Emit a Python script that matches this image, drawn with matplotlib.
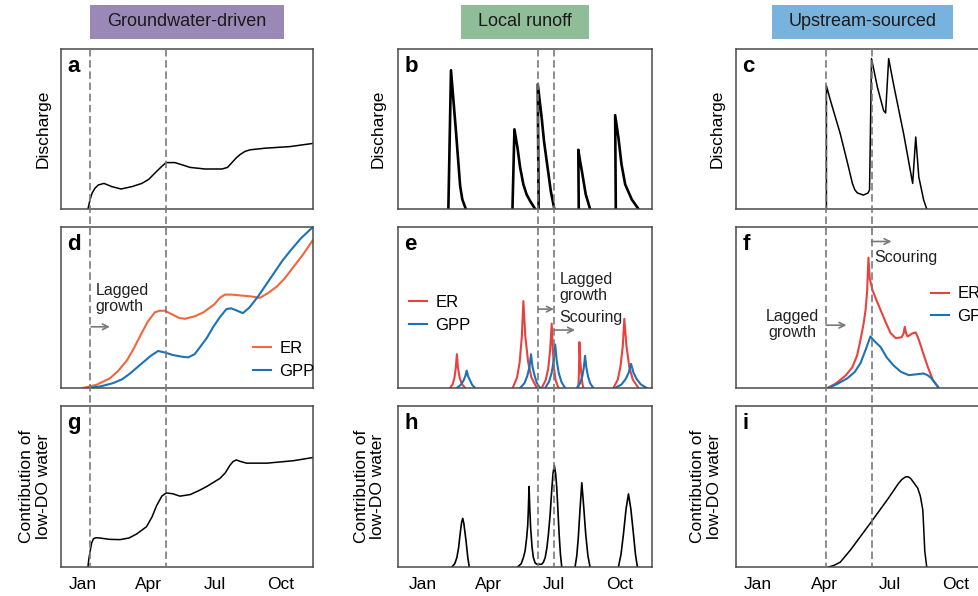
import matplotlib
matplotlib.use("Agg")
import matplotlib.pyplot as plt
from matplotlib.lines import Line2D
from matplotlib.patches import Rectangle
from matplotlib import transforms

plt.rcParams["font.family"] = ["Liberation Sans", "DejaVu Sans"]

# Monate: Jan = 0, Apr = 3, Jul = 6, Oct = 9
MONTH_TICKS = [0, 3, 6, 9]
MONTH_LABELS = ["Jan", "Apr", "Jul", "Oct"]

HEADERS = ["Groundwater-driven", "Local runoff", "Upstream-sourced"]
HEADER_COLORS = ["#9a88b6", "#8fbd98", "#78b3de"]
PANEL_LETTERS = ["a", "b", "c", "d", "e", "f", "g", "h", "i"]

# Zeitpunkte der gestrichelten Linien je Spalte (Monate)
dashed_months = [[0.32, 3.79], [5.29, 6.01], [3.09, 5.16]]

# --- a: Abfluss, grundwassergespeist
a_month = [0.23, 0.28, 0.32, 0.42, 0.55, 0.7, 0.96, 1.32, 1.74, 2.24, 2.69, 3.0, 3.29, 3.55,
           3.79, 4.2, 4.55, 4.89, 5.57, 6.35, 6.6, 6.8, 7.0, 7.17, 7.4, 7.63, 8.31, 9.45, 10.5]
a_flow = [0, 0.03, 0.056, 0.10, 0.13, 0.15, 0.16, 0.14, 0.125, 0.14, 0.16, 0.185, 0.225, 0.26,
          0.29, 0.29, 0.275, 0.26, 0.25, 0.25, 0.26, 0.29, 0.32, 0.34, 0.36, 0.37, 0.38, 0.39,
          0.41]

# --- b: Abfluss, lokaler Oberflächenabfluss (einzelne Spitzen)
b_month = [[1.16, 1.28, 1.50, 1.70, 1.80, 1.96],
           [4.10, 4.19, 4.33, 4.45, 4.60, 4.75, 4.91, 5.14],
           [5.30, 5.26, 5.44, 5.55, 5.67, 5.86, 6.02],
           [7.14, 7.12, 7.20, 7.28, 7.46, 7.66],
           [8.84, 8.81, 8.96, 9.10, 9.27, 9.57, 9.88]]
b_flow = [[0, 0.867, 0.50, 0.144, 0.06, 0],
          [0, 0.498, 0.383, 0.26, 0.154, 0.09, 0.05, 0],
          [0, 0.78, 0.57, 0.42, 0.30, 0.11, 0],
          [0, 0.37, 0.30, 0.24, 0.092, 0],
          [0, 0.586, 0.446, 0.28, 0.154, 0.06, 0]]

# --- c: Abfluss, oberstromig
c_month = [3.11, 3.11, 3.29, 3.74, 4.1, 4.29, 4.4, 4.52, 4.79, 5.0, 5.07, 5.16, 5.43, 5.71,
           5.8, 5.94, 6.16, 6.62, 7.03, 7.17, 7.31, 7.53, 7.67]
c_flow = [0, 0.77, 0.68, 0.47, 0.27, 0.16, 0.12, 0.10, 0.087, 0.10, 0.12, 0.94, 0.76, 0.615,
          0.60, 0.94, 0.78, 0.47, 0.16, 0.45, 0.20, 0.056, 0]

# --- d: ER / GPP, grundwassergespeist
d_er_month = [0, 0.62, 1.23, 1.6, 2.0, 2.3, 2.6, 2.95, 3.28, 3.5, 3.74, 4.1, 4.4, 4.66, 5.1,
              5.5, 6.0, 6.25, 6.48, 6.8, 7.17, 7.6, 8.08, 8.45, 8.85, 9.2, 9.6, 10.05, 10.5]
d_er = [0, 0.02, 0.06, 0.105, 0.17, 0.24, 0.32, 0.41, 0.47, 0.48, 0.48, 0.455, 0.435, 0.43,
        0.445, 0.47, 0.52, 0.56, 0.58, 0.58, 0.575, 0.57, 0.56, 0.59, 0.63, 0.68, 0.75, 0.83,
        0.92]
d_gpp_month = [0.23, 0.8, 1.37, 1.8, 2.15, 2.45, 2.75, 3.1, 3.43, 3.75, 4.1, 4.5, 4.8, 5.1,
               5.35, 5.65, 5.95, 6.25, 6.55, 6.75, 6.95, 7.3, 7.6, 8.0, 8.35, 8.7, 9.1, 9.45,
               9.95, 10.5]
d_gpp = [0, 0.01, 0.03, 0.055, 0.09, 0.125, 0.16, 0.2, 0.23, 0.22, 0.205, 0.195, 0.19, 0.21,
         0.255, 0.31, 0.38, 0.44, 0.49, 0.495, 0.485, 0.465, 0.5, 0.57, 0.64, 0.71, 0.79, 0.85,
         0.93, 1.0]

# --- e: ER / GPP, lokaler Abfluss (Spitzen)
e_er_month = [[1.24, 1.36, 1.44, 1.50, 1.55, 1.60, 1.68, 1.78, 1.93],
              [4.11, 4.31, 4.43, 4.53, 4.60, 4.69, 4.82, 4.97, 5.22],
              [5.44, 5.62, 5.74, 5.83, 5.90, 5.95, 6.01, 6.08, 6.21],
              [7.12, 7.15, 7.17, 7.21, 7.26, 7.30, 7.35],
              [8.73, 8.93, 9.05, 9.16, 9.23, 9.33, 9.46, 9.62, 9.88]]
e_er = [[0, 0.025, 0.063, 0.126, 0.21, 0.126, 0.063, 0.025, 0],
        [0, 0.065, 0.16, 0.32, 0.54, 0.32, 0.16, 0.065, 0],
        [0, 0.048, 0.12, 0.24, 0.40, 0.24, 0.12, 0.048, 0],
        [0, 0.10, 0.285, 0.17, 0.085, 0.034, 0],
        [0, 0.052, 0.13, 0.26, 0.43, 0.26, 0.13, 0.052, 0]]
e_gpp_month = [[1.55, 1.73, 1.85, 1.94, 2.00, 2.06, 2.16, 2.25, 2.39],
               [4.45, 4.65, 4.78, 4.88, 4.95, 5.02, 5.12, 5.22, 5.37],
               [5.60, 5.78, 5.90, 5.99, 6.06, 6.13, 6.22, 6.34, 6.51],
               [7.05, 7.20, 7.30, 7.37, 7.43, 7.49, 7.57, 7.66, 7.81],
               [8.81, 9.10, 9.29, 9.43, 9.54, 9.65, 9.80, 9.99, 10.26]]
e_gpp = [[0, 0.02, 0.045, 0.075, 0.108, 0.075, 0.045, 0.02, 0],
         [0, 0.03, 0.075, 0.13, 0.21, 0.13, 0.075, 0.03, 0],
         [0, 0.04, 0.095, 0.17, 0.27, 0.17, 0.095, 0.04, 0],
         [0, 0.03, 0.07, 0.125, 0.20, 0.125, 0.07, 0.03, 0],
         [0, 0.022, 0.055, 0.095, 0.15, 0.095, 0.055, 0.022, 0]]

# --- f: ER / GPP, oberstromig
f_er_month = [3.15, 3.5, 3.74, 4.0, 4.29, 4.5, 4.66, 4.8, 4.89, 4.96, 5.02, 5.08, 5.2, 5.37,
              5.57, 5.8, 6.03, 6.26, 6.53, 6.62, 6.67, 6.73, 6.8, 7.03, 7.17, 7.31, 7.5, 7.72,
              7.95, 8.22]
f_er = [0, 0.025, 0.05, 0.08, 0.13, 0.2, 0.30, 0.40, 0.485, 0.6, 0.81, 0.68, 0.61, 0.55,
        0.485, 0.41, 0.34, 0.31, 0.315, 0.34, 0.38, 0.34, 0.32, 0.34, 0.345, 0.30, 0.22, 0.13,
        0.05, 0]
f_gpp_month = [3.2, 3.6, 4.06, 4.4, 4.66, 4.9, 5.11, 5.3, 5.57, 5.85, 6.16, 6.5, 6.85, 7.2,
               7.53, 7.7, 7.85, 8.22]
f_gpp = [0, 0.025, 0.06, 0.1, 0.155, 0.24, 0.32, 0.29, 0.255, 0.19, 0.14, 0.1, 0.08, 0.085,
         0.09, 0.08, 0.065, 0]

# --- g: Anteil sauerstoffarmen Wassers, grundwassergespeist
g_month = [0.23, 0.27, 0.32, 0.40, 0.48, 0.6, 0.78, 1.2, 1.69, 2.1, 2.45, 2.9, 3.15, 3.36, 3.6,
           3.8, 4.1, 4.43, 4.9, 5.3, 5.65, 6.25, 6.5, 6.7, 6.85, 7.0, 7.2, 7.47, 8.4, 9.6, 10.5]
g_share = [0, 0.05, 0.09, 0.15, 0.175, 0.182, 0.18, 0.172, 0.17, 0.18, 0.205, 0.25, 0.31, 0.38,
           0.44, 0.46, 0.455, 0.44, 0.45, 0.475, 0.50, 0.55, 0.585, 0.63, 0.655, 0.665, 0.655,
           0.645, 0.645, 0.66, 0.68]

# --- h: Anteil sauerstoffarmen Wassers, lokaler Abfluss
h_month = [[1.32, 1.45, 1.55, 1.63, 1.70, 1.77, 1.82, 1.87, 1.97, 2.05, 2.12],
           [4.33, 4.50, 4.60, 4.68, 4.75, 4.80, 4.83, 4.86, 4.89, 4.93, 5.00, 5.06, 5.14, 5.22,
            5.44, 5.52, 5.60, 5.68, 5.75, 5.83, 5.90, 5.96, 6.02, 6.08, 6.13, 6.19, 6.24, 6.30,
            6.36],
           [6.97, 7.05, 7.12, 7.20, 7.28, 7.37, 7.46, 7.56, 7.66],
           [8.96, 9.08, 9.19, 9.31, 9.42, 9.53, 9.65, 9.74, 9.83]]
h_share = [[0, 0.02, 0.058, 0.12, 0.206, 0.28, 0.302, 0.27, 0.163, 0.06, 0],
           [0, 0.02, 0.058, 0.10, 0.18, 0.26, 0.36, 0.5, 0.38, 0.25, 0.12, 0.058, 0.025, 0.017,
            0.017, 0.03, 0.058, 0.12, 0.204, 0.33, 0.475, 0.58, 0.631, 0.58, 0.496, 0.34, 0.204,
            0.08, 0],
           [0, 0.07, 0.183, 0.36, 0.523, 0.37, 0.204, 0.07, 0],
           [0, 0.08, 0.204, 0.36, 0.454, 0.36, 0.204, 0.08, 0]]

# --- i: Anteil sauerstoffarmen Wassers, oberstromig
i_month = [3.2, 3.45, 3.74, 4.2, 4.66, 5.2, 5.89, 6.39, 6.55, 6.71, 6.83, 6.94, 7.1, 7.26, 7.38,
           7.49, 7.53, 7.58, 7.67]
i_share = [0, 0.01, 0.03, 0.105, 0.19, 0.29, 0.42, 0.52, 0.545, 0.56, 0.56, 0.55, 0.52, 0.49,
           0.44, 0.355, 0.25, 0.1, 0]

ER_ORANGE = "#f0673c"
ER_RED = "#e8423f"
GPP_BLUE = "#1b72b8"
DASH_GREY = "#7a7a7a"

# Layout (Pixel im 979x596-Bild)
W, H = 979, 596
col_left = [61, 398, 736]
col_width = [252, 254, 253]
row_top = [49, 227, 406]
row_bottom = [209, 388, 567]
col_xlim = [(-1.0, 10.5), (-1.15, 10.5), (-1.0, 10.5)]

fig = plt.figure(figsize=(W / 100, H / 100), dpi=100)
axes = [[None] * 3 for _ in range(3)]
for r in range(3):
    for c in range(3):
        ax = fig.add_axes([col_left[c] / W, 1 - row_bottom[r] / H,
                           col_width[c] / W, (row_bottom[r] - row_top[r]) / H])
        ax.set_xlim(*col_xlim[c])
        ax.set_ylim(0, 1)
        ax.set_yticks([])
        if r == 2:
            ax.set_xticks(MONTH_TICKS)
            ax.set_xticklabels(MONTH_LABELS, fontsize=12.5)
            ax.tick_params(axis="x", length=0, pad=7)
        else:
            ax.set_xticks([])
        for s in ax.spines.values():
            s.set_color("#4a4a4a")
            s.set_linewidth(1.1)
        ax.text(0.025, 0.955, PANEL_LETTERS[r * 3 + c], transform=ax.transAxes,
                fontsize=16, fontweight="heavy", ha="left", va="top")
        axes[r][c] = ax

# Zeile 1: Abfluss
axes[0][0].plot(a_month, a_flow, color="black", lw=1.1)
for m, v in zip(b_month, b_flow):
    axes[0][1].plot(m, v, color="black", lw=1.9)
axes[0][2].plot(c_month, c_flow, color="black", lw=1.1)

# Zeile 2: ER / GPP
axd = axes[1][0]
axd.plot(d_er_month, d_er, color=ER_ORANGE, lw=1.5, label="ER")
axd.plot(d_gpp_month, d_gpp, color=GPP_BLUE, lw=1.5, label="GPP")
axe = axes[1][1]
for i, (m, v) in enumerate(zip(e_er_month, e_er)):
    axe.plot(m, v, color=ER_RED, lw=1.5, label="ER" if i == 0 else None)
for i, (m, v) in enumerate(zip(e_gpp_month, e_gpp)):
    axe.plot(m, v, color=GPP_BLUE, lw=1.5, label="GPP" if i == 0 else None)
axf = axes[1][2]
axf.plot(f_er_month, f_er, color=ER_RED, lw=1.5, label="ER")
axf.plot(f_gpp_month, f_gpp, color=GPP_BLUE, lw=1.5, label="GPP")

legend_kw = dict(frameon=False, fontsize=12, handlelength=1.1, handletextpad=0.5,
                 labelspacing=0.45, borderpad=0, borderaxespad=0, loc="center left")
axd.legend(bbox_to_anchor=(0.76, 0.175), **legend_kw)
axe.legend(bbox_to_anchor=(0.043, 0.46), **legend_kw)
axf.legend(bbox_to_anchor=(0.77, 0.515), **legend_kw)

# Zeile 3: Anteil sauerstoffarmen Wassers
axes[2][0].plot(g_month, g_share, color="black", lw=1.1)
for m, v in zip(h_month, h_share):
    axes[2][1].plot(m, v, color="black", lw=1.2)
axes[2][2].plot(i_month, i_share, color="black", lw=1.1)

# Achsenbeschriftungen
label_x_top = [-0.071, -0.079, -0.075]
label_x_bottom = [-0.103, -0.112, -0.117]
for c in range(3):
    axes[0][c].text(label_x_top[c], 0.5, "Discharge", transform=axes[0][c].transAxes,
                    rotation=90, ha="center", va="center", fontsize=12.5)
    axes[2][c].text(label_x_bottom[c], 0.5, "Contribution of\nlow-DO water",
                    transform=axes[2][c].transAxes, rotation=90, ha="center",
                    va="center", fontsize=12.5, linespacing=1.15)

# Anmerkungen
arrow_kw = dict(arrowstyle="->", color=DASH_GREY, lw=1.2, shrinkA=0, shrinkB=0,
                mutation_scale=10)
axd.annotate("", xy=(1.23, 0.38), xytext=(0.37, 0.38), arrowprops=arrow_kw)
axd.text(0.59, 0.555, "Lagged\ngrowth", ha="left", va="center", fontsize=11.5,
         linespacing=1.1, color="#222222")

axe.annotate("", xy=(6.0, 0.49), xytext=(5.29, 0.49), arrowprops=arrow_kw)
axe.annotate("", xy=(6.97, 0.36), xytext=(6.01, 0.36), arrowprops=arrow_kw)
axe.text(6.25, 0.625, "Lagged\ngrowth", ha="left", va="center", fontsize=11.5,
         linespacing=1.1, color="#222222")
axe.text(6.25, 0.44, "Scouring", ha="left", va="center", fontsize=11.5, color="#222222")

axf.annotate("", xy=(6.07, 0.91), xytext=(5.16, 0.91), arrowprops=arrow_kw)
axf.text(5.30, 0.81, "Scouring", ha="left", va="center", fontsize=11.5, color="#222222")
axf.annotate("", xy=(4.02, 0.39), xytext=(3.1, 0.39), arrowprops=arrow_kw)
axf.text(2.79, 0.395, "Lagged\ngrowth", ha="right", va="center", fontsize=11.5,
         linespacing=1.1, multialignment="center", color="#222222")

# Gestrichelte Linien über alle drei Zeilen
y_top = 1 - row_top[0] / H
y_bot = 1 - row_bottom[2] / H
for c in range(3):
    trans = transforms.blended_transform_factory(axes[0][c].transData, fig.transFigure)
    for m in dashed_months[c]:
        fig.add_artist(Line2D([m, m], [y_top, y_bot], transform=trans, color=DASH_GREY,
                              lw=1.2, dashes=(4.5, 2.2), zorder=5))

# Spaltenüberschriften
header_box = [(90, 284), (461, 589), (772, 953)]
for (x0, x1), title, color in zip(header_box, HEADERS, HEADER_COLORS):
    fig.add_artist(Rectangle((x0 / W, 1 - 39 / H), (x1 - x0) / W, 34 / H,
                             transform=fig.transFigure, facecolor=color, edgecolor="none"))
    fig.text((x0 + x1) / 2 / W, 1 - 22 / H, title, ha="center", va="center", fontsize=13,
             color="#1a1a1a")

fig.savefig("out.png", dpi=100)
